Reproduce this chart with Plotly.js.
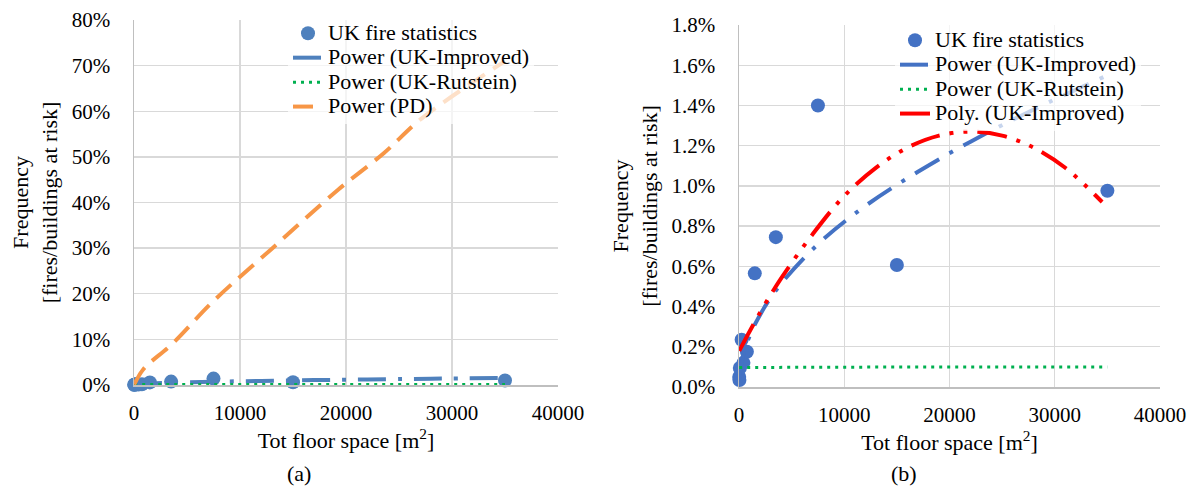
<!DOCTYPE html>
<html><head><meta charset="utf-8">
<script src="https://cdn.plot.ly/plotly-3.0.1.min.js"></script>
<style>
html,body{margin:0;padding:0;background:#fff;}
#chart{width:1198px;height:491px;}
</style>
</head><body><div id="chart"></div>
<script>
// UK fire statistics (floor space m2, frequency fraction)
const floorSpace = [20, 40, 80, 250, 420, 750, 1500, 3500, 7500, 15000, 35000];
const fireFreq   = [0.0005, 0.00035, 0.00095, 0.00235, 0.0012, 0.00175, 0.00565, 0.00745, 0.0140, 0.00607, 0.00976];

// Power (UK-Improved) trendline
const impX = [20, 100, 250, 500, 1500, 3500, 7500, 12000, 17000, 22000, 28000, 35000];
const impY = [0.0004, 0.0008, 0.00125, 0.0018, 0.0031, 0.0048, 0.0071, 0.0090, 0.0107, 0.0122, 0.0138, 0.0155];

// Power (UK-Rutstein) trendline
const rutX = [20, 10000, 20000, 35000];
const rutY = [0.00097, 0.00099, 0.0010, 0.0010];

// Power (PD) trendline
const pdX = [20, 900, 3650, 7450, 13060, 19200, 23560, 27180, 35000];
const pdY = [0.001, 0.035, 0.091, 0.183, 0.300, 0.427, 0.508, 0.585, 0.710];

// Poly. (UK-Improved) trendline
const polyX = [20, 2000, 4000, 7000, 10000, 13000, 16000, 19000, 22000, 25000, 28000, 31000, 34500];
const polyY = [0.0018, 0.0037, 0.0054, 0.0076, 0.0095, 0.0109, 0.0119, 0.0125, 0.0127, 0.0125, 0.0119, 0.0109, 0.0092];

const xTickVals = [0, 10000, 20000, 30000, 40000];

const names = {
  pts: 'UK fire statistics',
  imp: 'Power (UK-Improved)',
  rut: 'Power (UK-Rutstein)',
  pd: 'Power (PD)',
  poly: 'Poly. (UK-Improved)'
};
const big = s => '<span style="font-size:22px">' + s + '</span>';

const blueL = '#4F81BD', blueR = '#4472C4', green = '#00B050', orange = '#F79646', red = '#FF0000';
const dashImp = '28px,12px,4px,12px';
const dashRut = '3px,5px';
const dashPD = '20px,10px';
const dashPoly = '30px,10px,4px,10px,4px,10px';

const traces = [
  {type:'scatter', mode:'markers', x:floorSpace, y:fireFreq, xaxis:'x', yaxis:'y', name:big(names.pts),
   marker:{size:14, color:blueL}, cliponaxis:false, legend:'legend'},
  {type:'scatter', mode:'lines', x:impX, y:impY, xaxis:'x', yaxis:'y', name:big(names.imp),
   line:{color:blueL, width:4, dash:dashImp, shape:'spline'}, legend:'legend'},
  {type:'scatter', mode:'lines', x:rutX, y:rutY, xaxis:'x', yaxis:'y', name:big(names.rut),
   line:{color:green, width:3, dash:dashRut}, legend:'legend'},
  {type:'scatter', mode:'lines', x:pdX, y:pdY, xaxis:'x', yaxis:'y', name:big(names.pd),
   line:{color:orange, width:4, dash:dashPD, shape:'spline'}, legend:'legend'},

  {type:'scatter', mode:'markers', x:floorSpace, y:fireFreq, xaxis:'x2', yaxis:'y2', name:big(names.pts),
   marker:{size:14, color:blueR}, cliponaxis:false, legend:'legend2'},
  {type:'scatter', mode:'lines', x:impX, y:impY, xaxis:'x2', yaxis:'y2', name:big(names.imp),
   line:{color:blueR, width:4, dash:dashImp, shape:'spline'}, legend:'legend2'},
  {type:'scatter', mode:'lines', x:rutX, y:rutY, xaxis:'x2', yaxis:'y2', name:big(names.rut),
   line:{color:green, width:3, dash:dashRut}, legend:'legend2'},
  {type:'scatter', mode:'lines', x:polyX, y:polyY, xaxis:'x2', yaxis:'y2', name:big(names.poly),
   line:{color:red, width:4, dash:dashPoly, shape:'spline'}, legend:'legend2'}
];

const serif = 'Liberation Serif, Times New Roman, serif';
const xCommon = {
  range:[0, 40000], tickvals:xTickVals, tickformat:'d', showgrid:true, gridcolor:'#D9D9D9', gridwidth:1.3,
  showline:true, linecolor:'#BFBFBF', linewidth:1.5, zeroline:false, ticks:'', ticklabelstandoff:8,
  tickfont:{family:serif, size:21, color:'#000'}, fixedrange:true,
  title:{text:'Tot floor space [m<sup>2</sup>]', font:{family:serif, size:22, color:'#000'}, standoff:2}
};
const yCommon = {
  showgrid:true, gridcolor:'#D9D9D9', gridwidth:1.3, showline:true, linecolor:'#BFBFBF', linewidth:1.5,
  zeroline:false, ticks:'', ticklabelstandoff:18, tickfont:{family:serif, size:21, color:'#000'}, fixedrange:true,
  title:{text:'Frequency<br>[fires/buildings at risk]', font:{family:serif, size:22, color:'#000'}, standoff:8}
};

const layout = {
  width:1198, height:491, autosize:false, margin:{l:0, r:0, t:0, b:0},
  paper_bgcolor:'#fff', plot_bgcolor:'#fff', font:{family:serif, size:21, color:'#000'},
  showlegend:true,
  xaxis: Object.assign({}, xCommon, {domain:[134/1198, 558/1198], anchor:'y'}),
  yaxis: Object.assign({}, yCommon, {domain:[1-385/491, 1-20/491], anchor:'x', range:[0, 0.8], dtick:0.1, tick0:0, tickformat:'.0%'}),
  xaxis2: Object.assign({}, xCommon, {domain:[739/1198, 1160/1198], anchor:'y2'}),
  yaxis2: Object.assign({}, yCommon, {domain:[1-387/491, 1-25/491], anchor:'x2', range:[0, 0.018], dtick:0.002, tick0:0, tickformat:'.1%'}),
  legend: {x:288/1198, y:1-16/491, xanchor:'left', yanchor:'top', bgcolor:'rgba(255,255,255,0.7)', borderwidth:0,
           font:{family:serif, size:16.5, color:'#000'}, tracegroupgap:0},
  legend2: {x:895/1198, y:1-23/491, xanchor:'left', yanchor:'top', bgcolor:'rgba(255,255,255,0.7)', borderwidth:0,
           font:{family:serif, size:16.5, color:'#000'}, tracegroupgap:0},
  annotations: [
    {xref:'paper', yref:'paper', x:299/1198, y:1-473/491, text:'(a)', showarrow:false, xanchor:'center', yanchor:'middle',
     font:{family:serif, size:22, color:'#000'}},
    {xref:'paper', yref:'paper', x:904/1198, y:1-473/491, text:'(b)', showarrow:false, xanchor:'center', yanchor:'middle',
     font:{family:serif, size:22, color:'#000'}}
  ]
};

Plotly.newPlot('chart', traces, layout, {displayModeBar:false, staticPlot:true});
</script>
</body></html>
